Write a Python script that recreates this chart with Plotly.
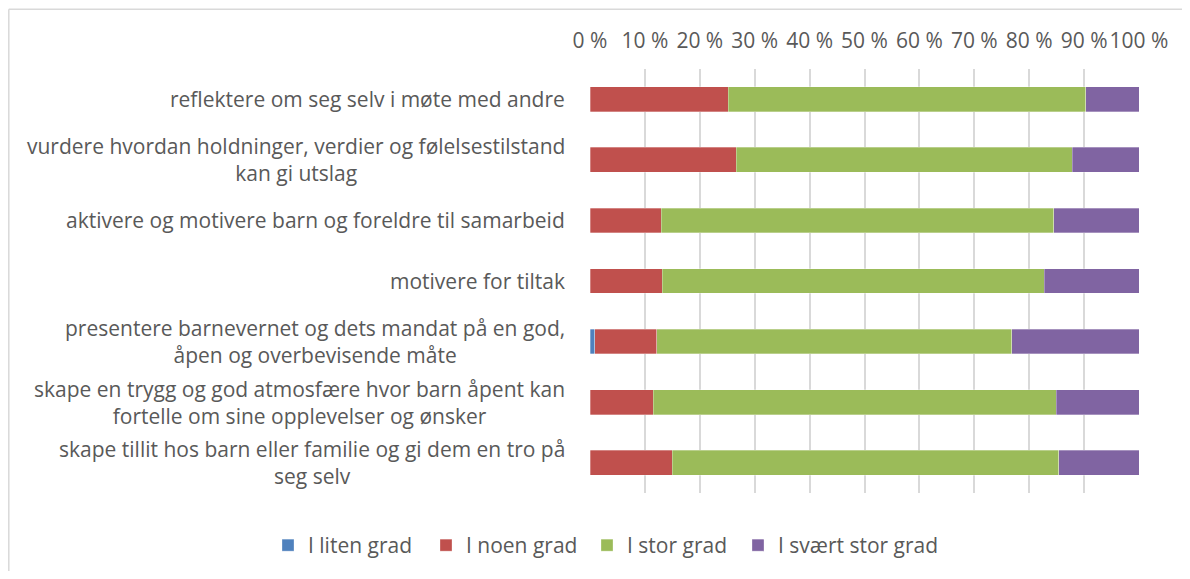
import plotly.graph_objects as go

categories = [
    "reflektere om seg selv i møte med andre",
    "vurdere hvordan holdninger, verdier og følelsestilstand<br>kan gi utslag",
    "aktivere og motivere barn og foreldre til samarbeid",
    "motivere for tiltak",
    "presentere barnevernet og dets mandat på en god,<br>åpen og overbevisende måte",
    "skape en trygg og god atmosfære hvor barn åpent kan<br>fortelle om sine opplevelser og ønsker",
    "skape tillit hos barn eller familie og gi dem en tro på<br>seg selv",
]
liten = [0, 0, 0, 0, 0.9, 0, 0]
noen = [25.2, 26.6, 13.0, 13.2, 11.3, 11.5, 15.0]
stor = [65.1, 61.2, 71.5, 69.5, 64.6, 73.4, 70.4]
svaert = [9.7, 12.2, 15.5, 17.3, 23.2, 15.1, 14.6]
series_names = ["I liten grad", "I noen grad", "I stor grad", "I svært stor grad"]
colors = ["#4F81BD", "#C0504D", "#9BBB59", "#8064A2"]
tick_vals = list(range(0, 101, 10))
tick_text = [f"{v} %" for v in tick_vals]

FONT = "Open Sans"
FS = 21
OFF = 8  # page body margin
W, H = 1174, 563
L = 590 - OFF
R = W - (1139 - OFF)
T = 68.6 - OFF
B = H - (493.4 - OFF)
legend_widths = [113, 116, 106, 160]

fig = go.Figure()
for name, vals, col, lw in zip(series_names, [liten, noen, stor, svaert], colors, legend_widths):
    fig.add_trace(go.Bar(
        y=categories, x=vals, name=name, orientation="h", legendwidth=lw,
        marker=dict(color=col, line=dict(color="rgba(255,255,255,0.6)", width=0.5)),
    ))

pw = W - L - R
ph = H - T - B
def px_x(p):
    return (p - OFF - L) / pw
def px_y(p):
    return (H - B - (p - OFF)) / ph

annotations = []
for c in categories:
    annotations.append(dict(
        x=px_x(567), xref="paper", y=c, yref="y", text=c, showarrow=False,
        xanchor="right", yanchor="middle", align="center",
        font=dict(family=FONT, size=FS, color="#595959"),
    ))

shapes = [
    dict(type="line", xref="paper", yref="paper", x0=px_x(8.8), x1=px_x(1200),
         y0=px_y(8.8), y1=px_y(8.8), line=dict(color="#d9d9d9", width=1.5)),
    dict(type="line", xref="paper", yref="paper", x0=px_x(8.8), x1=px_x(8.8),
         y0=px_y(8.8), y1=px_y(600), line=dict(color="#d9d9d9", width=1.5)),
]

fig.update_layout(
    width=W, height=H, barmode="stack", bargap=0.59,
    margin=dict(l=L, r=R, t=T, b=B, autoexpand=False),
    paper_bgcolor="white", plot_bgcolor="white",
    font=dict(family=FONT, size=FS, color="#595959"),
    xaxis=dict(side="top", range=[0, 100], tickvals=tick_vals, ticktext=tick_text,
               showgrid=True, gridcolor="#d9d9d9", gridwidth=1.5, zeroline=False,
               showline=False, ticks="", ticklabelstandoff=16,
               tickfont=dict(family=FONT, size=FS, color="#595959")),
    yaxis=dict(categoryorder="array", categoryarray=categories[::-1],
               showticklabels=False, showgrid=False,
               zeroline=False, showline=False, ticks=""),
    legend=dict(orientation="h", x=px_x(268), xanchor="left", xref="paper",
                y=px_y(546), yanchor="middle", yref="paper", traceorder="normal",
                font=dict(family=FONT, size=FS, color="#595959"),
                itemwidth=30),
    annotations=annotations, shapes=shapes, showlegend=True,
)
fig.write_html("out.html")
